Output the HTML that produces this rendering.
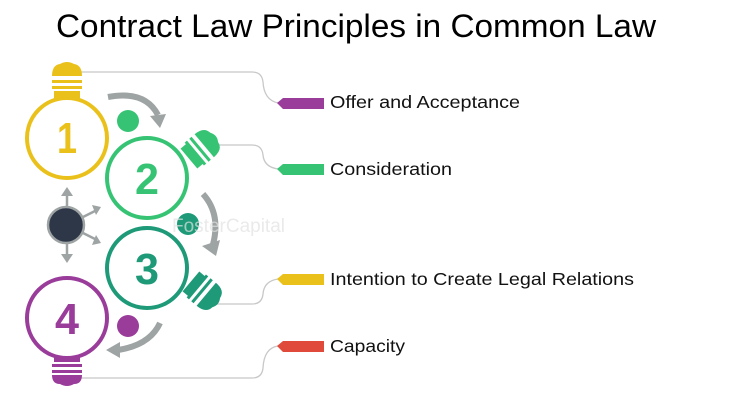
<!DOCTYPE html>
<html><head><meta charset="utf-8"><style>
html,body{margin:0;padding:0;background:#fff;}
svg{display:block;}
text{font-family:"Liberation Sans",sans-serif;}
</style></head><body>
<svg width="739" height="415" viewBox="0 0 739 415" xmlns="http://www.w3.org/2000/svg">
<text x="56" y="37" font-size="32" fill="#000" textLength="600" lengthAdjust="spacingAndGlyphs">Contract Law Principles in Common Law</text>

<g fill="none" stroke="#c8c8c8" stroke-width="1.3">
<path d="M80 72 H252 Q262 72 263 82 Q264 100 278 103"/>
<path d="M210 145 H252 Q262 145 263 155 Q264 167 278 169"/>
<path d="M212 304 H252 Q262 304 263 294 Q264 281 278 279"/>
<path d="M80 378 H252 Q262 378 263 368 Q264 348 278 346"/>
</g>
<path d="M277 103 L283 98 H324 V109 H283 Z" fill="#993c9a"/>
<path d="M277 169 L283 164 H324 V175 H283 Z" fill="#36c474"/>
<path d="M277 279 L283 274 H324 V285 H283 Z" fill="#eac11b"/>
<path d="M277 346 L283 341 H324 V352 H283 Z" fill="#e04a3a"/>
<g font-size="17.5" fill="#111">
<text x="330" y="108" textLength="190" lengthAdjust="spacingAndGlyphs">Offer and Acceptance</text>
<text x="330" y="175" textLength="122" lengthAdjust="spacingAndGlyphs">Consideration</text>
<text x="330" y="285" textLength="304" lengthAdjust="spacingAndGlyphs">Intention to Create Legal Relations</text>
<text x="330" y="352" textLength="75" lengthAdjust="spacingAndGlyphs">Capacity</text>
</g>

<g>
<path d="M52 76 Q52 65 60 64 Q67 60 74 64 Q82 65 82 76 Z" fill="#eac11b"/>
<rect x="52" y="80" width="30" height="3" fill="#eac11b"/>
<rect x="52" y="86" width="30" height="3" fill="#eac11b"/>
<rect x="54" y="91" width="26" height="8" fill="#eac11b"/>
<circle cx="67" cy="138" r="40" fill="#fff" stroke="#eac11b" stroke-width="4"/>
<text x="67" y="153" font-size="44" font-weight="bold" fill="#eac11b" text-anchor="middle" textLength="20" lengthAdjust="spacingAndGlyphs">1</text>
</g>
<g>
<g transform="translate(192,156) rotate(50)">
<rect x="-13" y="-4" width="26" height="8" fill="#36c474"/>
<rect x="-15" y="-12" width="30" height="3" fill="#36c474"/>
<rect x="-15" y="-6" width="30" height="3" fill="#36c474"/>
<path d="M-15 -16 Q-15 -28 -6 -29 Q0 -33 6 -29 Q15 -28 15 -16 Z" fill="#36c474"/>
</g>
<circle cx="147" cy="178" r="40" fill="#fff" stroke="#36c474" stroke-width="4"/>
<text x="147" y="194" font-size="44" font-weight="bold" fill="#36c474" text-anchor="middle" textLength="24" lengthAdjust="spacingAndGlyphs">2</text>
</g>
<g>
<g transform="translate(194,284) rotate(130)">
<rect x="-13" y="-4" width="26" height="8" fill="#1e9a78"/>
<rect x="-15" y="-12" width="30" height="3" fill="#1e9a78"/>
<rect x="-15" y="-6" width="30" height="3" fill="#1e9a78"/>
<path d="M-15 -16 Q-15 -28 -6 -29 Q0 -33 6 -29 Q15 -28 15 -16 Z" fill="#1e9a78"/>
</g>
<circle cx="147" cy="268" r="40" fill="#fff" stroke="#1e9a78" stroke-width="4"/>
<text x="147" y="284" font-size="44" font-weight="bold" fill="#1e9a78" text-anchor="middle" textLength="24" lengthAdjust="spacingAndGlyphs">3</text>
</g>
<g>
<rect x="54" y="354" width="26" height="8" fill="#993c9a"/>
<rect x="52" y="364" width="30" height="3" fill="#993c9a"/>
<rect x="52" y="370" width="30" height="3" fill="#993c9a"/>
<path d="M52 375 Q52 384 60 384 Q67 388 74 384 Q82 384 82 375 Z" fill="#993c9a"/>
<circle cx="67" cy="318" r="40" fill="#fff" stroke="#993c9a" stroke-width="4"/>
<text x="67" y="334" font-size="44" font-weight="bold" fill="#993c9a" text-anchor="middle" textLength="24" lengthAdjust="spacingAndGlyphs">4</text>
</g>

<circle cx="128" cy="121" r="11" fill="#36c474"/>
<circle cx="188" cy="224" r="11" fill="#1e9a78"/>
<circle cx="128" cy="326" r="11" fill="#993c9a"/>

<g fill="none" stroke="#9ea3a3" stroke-width="6">
<path d="M108 97 Q145 90 158 115"/>
<path d="M203 194 Q222 215 212 248"/>
<path d="M160 323 Q150 345 118 350"/>
</g>
<g fill="#9ea3a3">
<path d="M150 116 L166 114 L160 128 Z"/>
<path d="M202 246 L216 256 L220 240 Z"/>
<path d="M120 342 L106 350 L120 358 Z"/>
</g>

<g stroke="#9ea3a3" stroke-width="2.5" fill="none">
<path d="M67 225 V193"/><path d="M67 225 V257"/>
<path d="M67 225 L97 210"/><path d="M67 225 L97 240"/>
</g>
<g fill="#9ea3a3">
<path d="M61 196 L67 187 L73 196 Z"/>
<path d="M61 254 L67 263 L73 254 Z"/>
<path d="M92 205 L101 207 L96 215 Z"/>
<path d="M92 245 L101 243 L96 235 Z"/>
</g>
<circle cx="66" cy="225" r="18" fill="#2d3748" stroke="#9ea3a3" stroke-width="2.5"/>

<text x="172" y="232" font-size="19" fill="#e2e2e2" opacity="0.7">FosterCapital</text>
</svg>
</body></html>
